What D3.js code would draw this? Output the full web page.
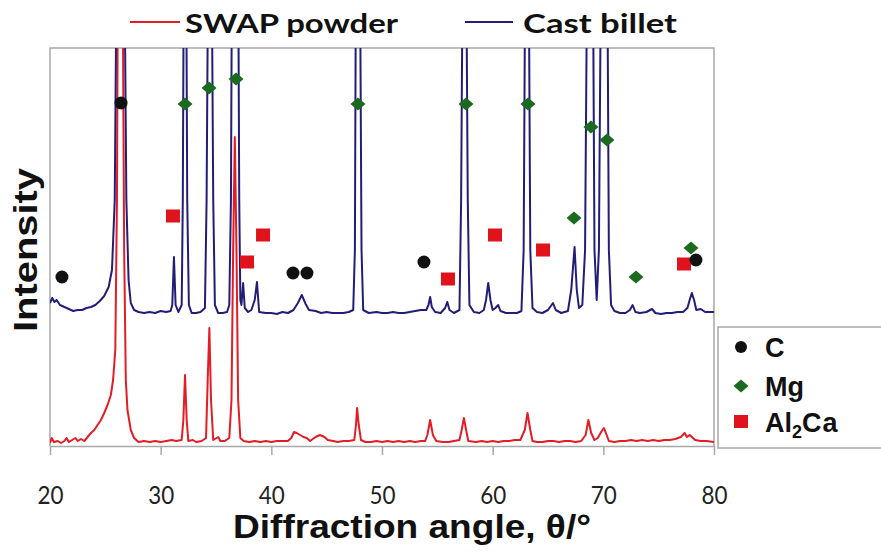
<!DOCTYPE html>
<html>
<head>
<meta charset="utf-8">
<script src="https://cdn.jsdelivr.net/npm/d3@7"></script>
<style>
  body { margin: 0; background: #fff; }
  svg { display: block; }
</style>
</head>
<body>
<div id="chart"></div>
<script>
// XRD patterns, [2theta, intensity (a.u.)]
var billetPts = [
  [20.0,143],[20.2,148],[20.4,144],[20.6,146],[20.9,141],[21.3,139],[21.7,137],[22.1,135],
  [22.5,136],[22.9,136],[23.3,138],[23.7,139],[24.1,141],[24.5,145],[24.9,150],[25.3,159],
  [25.6,176],[25.85,246],[26.05,520],[26.35,700],[26.7,520],[26.9,246],[27.1,166],[27.3,143],
  [27.6,136],[28.0,134],[28.5,133],[29.0,134],[29.5,133],[30.0,135],[30.5,134],[30.9,135],
  [31.05,141],[31.2,189],[31.35,141],[31.6,134],[31.9,141],[32.0,246],[32.1,500],[32.2,650],
  [32.3,500],[32.4,246],[32.55,141],[32.8,133],[33.2,133],[33.6,134],[34.0,138],[34.15,246],
  [34.3,500],[34.45,650],[34.6,500],[34.75,246],[34.9,141],[35.2,133],[35.6,133],[36.0,134],
  [36.2,141],[36.35,246],[36.45,500],[36.75,700],[37.0,500],[37.1,246],[37.2,146],[37.3,141],
  [37.45,163],[37.6,138],[37.9,134],[38.2,136],[38.5,146],[38.7,164],[38.9,134],[39.5,133],
  [40.0,133],[40.5,132],[41.0,134],[41.5,133],[42.0,136],[42.4,143],[42.75,151],[43.1,142],
  [43.4,136],[44.0,135],[44.5,133],[45.0,134],[45.5,133],[46.0,133],[46.5,133],[47.0,134],
  [47.4,136],[47.55,196],[47.65,500],[47.85,650],[48.0,500],[48.15,196],[48.3,136],[48.8,133],
  [49.5,134],[50.0,133],[50.5,133],[51.0,134],[51.5,133],[52.0,133],[52.5,134],[53.0,135],
  [53.5,136],[54.0,136],[54.2,141],[54.35,149],[54.5,139],[54.8,134],[55.3,133],[55.7,138],
  [55.9,144],[56.1,136],[56.5,133],[57.0,136],[57.15,246],[57.3,500],[57.45,650],[57.6,500],
  [57.75,246],[57.9,141],[58.3,134],[58.8,133],[59.2,136],[59.4,146],[59.6,163],[59.8,146],
  [60.0,136],[60.25,138],[60.5,141],[60.7,135],[61.2,133],[61.7,133],[62.2,133],[62.6,135],
  [62.8,196],[62.95,500],[63.1,650],[63.25,500],[63.4,196],[63.6,138],[64.0,134],[64.5,133],
  [65.0,136],[65.45,143],[65.7,136],[66.2,133],[66.8,135],[67.1,156],[67.4,199],[67.6,156],
  [67.8,138],[68.1,141],[68.35,196],[68.55,500],[68.8,700],[69.05,500],[69.2,196],[69.4,146],
  [69.6,196],[69.8,500],[70.1,700],[70.35,500],[70.5,196],[70.7,141],[71.0,135],[71.5,133],
  [72.0,133],[72.4,136],[72.65,141],[72.9,134],[73.3,133],[73.9,134],[74.4,137],[74.7,133],
  [75.2,132],[75.7,133],[76.2,133],[76.7,134],[77.2,134],[77.6,138],[77.8,146],[78.0,153],
  [78.2,146],[78.4,136],[78.8,137],[79.2,134],[79.6,134],[80.0,134]
];

var powderPts = [
  [20.0,3],[20.15,8],[20.35,4],[20.7,5],[21.0,3],[21.3,5],[21.5,8],[21.7,4],[22.0,6],[22.3,8],
  [22.5,5],[22.8,7],[23.1,5],[23.4,9],[23.7,13],[24.0,16],[24.3,21],[24.6,26],[24.9,33],
  [25.2,41],[25.5,51],[25.7,66],[25.9,96],[26.05,246],[26.15,500],[26.35,700],[26.55,500],
  [26.7,196],[26.85,66],[27.0,36],[27.3,16],[27.6,8],[28.0,4],[28.5,5],[29.0,4],[29.5,5],
  [30.0,4],[30.5,5],[31.0,6],[31.4,5],[31.9,6],[32.05,26],[32.2,71],[32.35,26],[32.5,5],
  [32.9,6],[33.2,4],[33.7,5],[34.1,8],[34.25,66],[34.4,118],[34.55,46],[34.75,6],[35.2,9],
  [35.4,5],[35.8,5],[36.2,8],[36.4,46],[36.55,196],[36.7,309],[36.85,196],[37.0,46],[37.2,8],
  [37.5,5],[38.0,4],[38.5,5],[39.0,4],[39.5,5],[40.0,4],[40.5,5],[41.0,5],[41.5,5],[41.8,8],
  [42.05,14],[42.3,13],[42.6,11],[42.9,9],[43.2,8],[43.5,5],[44.0,9],[44.4,11],[44.8,9],
  [45.1,6],[45.6,5],[46.0,4],[46.5,5],[47.0,5],[47.5,6],[47.65,21],[47.75,38],[47.9,21],
  [48.1,6],[48.5,4],[49.0,4],[49.5,5],[50.0,4],[50.5,5],[51.0,4],[51.5,5],[52.0,4],[52.5,5],
  [53.0,4],[53.5,5],[53.9,5],[54.1,11],[54.35,26],[54.6,11],[54.9,5],[55.5,4],[56.0,4],
  [56.5,5],[57.0,6],[57.2,16],[57.4,28],[57.6,16],[57.8,5],[58.5,4],[59.0,5],[59.5,4],
  [60.0,5],[60.5,4],[61.0,5],[61.5,5],[62.0,6],[62.5,6],[62.9,16],[63.15,33],[63.4,16],
  [63.6,5],[64.0,4],[64.5,4],[65.0,5],[65.5,5],[66.0,4],[66.5,5],[67.0,5],[67.5,4],[68.0,5],
  [68.4,11],[68.65,26],[68.9,13],[69.2,6],[69.5,8],[69.8,14],[70.05,18],[70.3,11],[70.5,5],
  [71.0,4],[71.5,5],[72.0,5],[72.5,6],[73.0,5],[73.5,6],[74.0,5],[74.5,6],[75.0,5],[75.5,6],
  [76.0,6],[76.5,7],[77.0,9],[77.35,13],[77.55,9],[77.8,11],[78.0,9],[78.3,6],[78.8,5],
  [79.3,5],[80.0,4]
];

// phase markers [2theta, intensity]
var carbonMarks = [[21.08,169],[26.42,343],[41.96,173],[43.22,173],[53.79,184],[78.37,186]];
var mgMarks = [[32.20,342],[34.37,358],[36.81,367],[47.83,342],[57.59,342],[63.19,342],
  [68.88,319],[70.33,306],[67.35,228],[72.95,169],[77.92,198]];
var al2caMarks = [[31.11,230],[37.80,184],[39.25,211],[55.96,167],[60.21,211],[64.55,196],[77.29,182]];

var xTicks = [20, 30, 40, 50, 60, 70, 80];
var seriesNames = ["SWAP powder", "Cast billet"];
var phaseNames = ["C", "Mg", "Al2Ca"];

var W = 881, H = 559;
var plotL = 50, plotR = 714, plotT = 48, plotB = 446;
var billetColor = "#221e78", powderColor = "#e31d25";
var gray = "#a8a8a8";

var svg = d3.select("#chart").append("svg")
    .attr("width", W)
    .attr("height", H);
svg.append("rect").attr("width", W).attr("height", H).attr("fill", "#fff");

var x = d3.scaleLinear().domain([20, 80]).range([plotL, plotR]);
var y = d3.scaleLinear().domain([0, 398]).range([plotB, plotT]);

svg.append("clipPath").attr("id", "plotClip")
  .append("rect")
    .attr("x", plotL).attr("y", plotT)
    .attr("width", plotR - plotL).attr("height", plotB - plotT);

// frame (left, top, right)
svg.append("path")
    .attr("d", "M" + plotL + "," + plotB + "V" + plotT + "H" + plotR + "V" + plotB)
    .attr("fill", "none")
    .attr("stroke", gray)
    .attr("stroke-width", 1.5);

// x axis
var xAxis = svg.append("g")
    .attr("transform", "translate(0," + plotB + ")")
    .call(d3.axisBottom(x).tickValues(xTicks).tickSize(9).tickSizeOuter(0).tickPadding(31));
xAxis.select(".domain").attr("stroke", gray).attr("stroke-width", 1.5);
xAxis.selectAll(".tick line").attr("stroke", gray).attr("stroke-width", 1.5);
xAxis.selectAll(".tick text")
    .attr("fill", "#222")
    .style("font-family", "Lato, 'Open Sans', sans-serif")
    .style("font-size", "25px")
    .attr("textLength", 26)
    .attr("lengthAdjust", "spacingAndGlyphs");

var line = d3.line()
    .x(function(d) { return x(d[0]); })
    .y(function(d) { return y(d[1]); });

var plot = svg.append("g").attr("clip-path", "url(#plotClip)");
plot.append("path")
    .datum(powderPts)
    .attr("d", line)
    .attr("fill", "none")
    .attr("stroke", powderColor)
    .attr("stroke-width", 2)
    .attr("stroke-linejoin", "round");
plot.append("path")
    .datum(billetPts)
    .attr("d", line)
    .attr("fill", "none")
    .attr("stroke", billetColor)
    .attr("stroke-width", 2)
    .attr("stroke-linejoin", "round");

// phase markers
var diamond = function(cx, cy) {
    return "M" + cx + "," + (cy - 6.5) + "L" + (cx + 7.5) + "," + cy +
        "L" + cx + "," + (cy + 6.5) + "L" + (cx - 7.5) + "," + cy + "Z";
};
svg.append("g").selectAll("rect")
    .data(al2caMarks)
    .enter().append("rect")
    .attr("x", function(d) { return x(d[0]) - 7; })
    .attr("y", function(d) { return y(d[1]) - 6.5; })
    .attr("width", 14)
    .attr("height", 13)
    .attr("fill", "#e0121c");
svg.append("g").selectAll("circle")
    .data(carbonMarks)
    .enter().append("circle")
    .attr("cx", function(d) { return x(d[0]); })
    .attr("cy", function(d) { return y(d[1]); })
    .attr("r", 6.5)
    .attr("fill", "#111");
svg.append("g").selectAll("path")
    .data(mgMarks)
    .enter().append("path")
    .attr("d", function(d) { return diamond(x(d[0]), y(d[1])); })
    .attr("fill", "#1c6a1f");

// top legend (series)
var topLegend = [
    {name: seriesNames[0], color: powderColor, x1: 130, x2: 180, tx: 185, len: 213},
    {name: seriesNames[1], color: billetColor, x1: 465, x2: 513, tx: 523, len: 154}
];
topLegend.forEach(function(d) {
    svg.append("line")
        .attr("x1", d.x1).attr("x2", d.x2)
        .attr("y1", 22).attr("y2", 22)
        .attr("stroke", d.color)
        .attr("stroke-width", 2);
    svg.append("text")
        .attr("x", d.tx).attr("y", 33)
        .attr("textLength", d.len)
        .attr("lengthAdjust", "spacingAndGlyphs")
        .style("font-family", "Lato, 'Open Sans', sans-serif")
        .style("font-weight", "bold")
        .style("font-size", "27px")
        .attr("fill", "#111")
        .text(d.name);
});

// right legend (phases)
svg.append("rect")
    .attr("x", 718).attr("y", 327)
    .attr("width", 200).attr("height", 121)
    .attr("fill", "#fff")
    .attr("stroke", gray)
    .attr("stroke-width", 1.5);
var legFont = "'Liberation Sans', Arial, sans-serif";
svg.append("circle").attr("cx", 741).attr("cy", 347).attr("r", 6).attr("fill", "#111");
svg.append("path").attr("d", diamond(741, 386)).attr("fill", "#1c6a1f");
svg.append("rect").attr("x", 734).attr("y", 415).attr("width", 14).attr("height", 13).attr("fill", "#e0121c");

var legText = svg.append("g")
    .style("font-family", legFont)
    .style("font-size", "27px")
    .style("font-weight", "bold")
    .attr("fill", "#111");
legText.append("text").attr("x", 765).attr("y", 357).text(phaseNames[0]);
legText.append("text").attr("x", 765).attr("y", 396).text(phaseNames[1]);
var alText = legText.append("text").attr("x", 765).attr("y", 432);
alText.append("tspan").text("Al");
alText.append("tspan").attr("dy", 6).style("font-size", "18px").text("2");
alText.append("tspan").attr("dy", -6).attr("letter-spacing", 1).text("Ca");

// axis titles
svg.append("text")
    .attr("x", 412).attr("y", 538)
    .attr("text-anchor", "middle")
    .attr("textLength", 358)
    .attr("lengthAdjust", "spacingAndGlyphs")
    .style("font-family", "'Liberation Sans', Arial, sans-serif")
    .style("font-weight", "bold")
    .style("font-size", "33px")
    .attr("fill", "#111")
    .text("Diffraction angle, \u03b8/\u00b0");

svg.append("text")
    .attr("transform", "translate(37,250) rotate(-90)")
    .attr("text-anchor", "middle")
    .attr("textLength", 164)
    .attr("lengthAdjust", "spacingAndGlyphs")
    .style("font-family", "'Liberation Sans', Arial, sans-serif")
    .style("font-weight", "bold")
    .style("font-size", "33px")
    .attr("fill", "#111")
    .text("Intensity");
</script>
</body>
</html>
